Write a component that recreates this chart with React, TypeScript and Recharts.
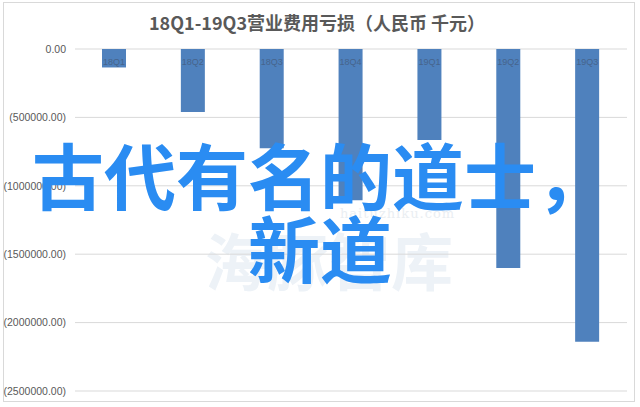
import { BarChart, Bar, XAxis, YAxis, CartesianGrid, LabelList } from 'recharts'

// 营业费用亏损, 人民币千元
const quarters = ['18Q1', '18Q2', '18Q3', '18Q4', '19Q1', '19Q2', '19Q3']
const losses = [-135000, -460000, -725000, -1105000, -665000, -1600000, -2140000]
const yTicks = [0, -500000, -1000000, -1500000, -2000000, -2500000]

const title = '18Q1-19Q3营业费用亏损（人民币 千元）'
const overlayText = '古代有名的道士，新道'

const fmt = (v: number) => (v === 0 ? '0.00' : `(${Math.abs(v).toFixed(2)})`)

// category name drawn just under the zero line, inside the bar
const QuarterLabel = (props: any) => {
  const { x, y, width, height, value } = props
  const top = Math.min(y, y + height)
  return (
    <text
      x={x + width / 2}
      y={top + 16}
      textAnchor="middle"
      fill="#46648c"
      fontSize={9}
      fontFamily="Liberation Sans, sans-serif"
    >
      {value}
    </text>
  )
}

export default function App() {
  const data = quarters.map((q, i) => ({ q, loss: losses[i] }))

  return (
    <div style={{ position: 'relative', width: 640, height: 407, background: '#fff', overflow: 'hidden' }}>
      <style>{`body{margin:0}`}</style>
      {/* chart frame */}
      <div
        style={{
          position: 'absolute',
          left: 3,
          top: 2,
          width: 632,
          height: 400,
          border: '1px solid #d9d9d9',
          boxSizing: 'border-box',
        }}
      />
      {/* faint watermark behind the bars */}
      <div
        style={{
          position: 'absolute',
          left: 340,
          top: 206,
          fontFamily: 'DejaVu Serif, serif',
          fontSize: 13,
          color: '#eaeef2',
          letterSpacing: 1,
        }}
      >
        haituzhiku.com
      </div>
      <div
        style={{
          position: 'absolute',
          left: 205,
          top: 228,
          fontFamily: '"Noto Sans CJK SC", sans-serif',
          fontWeight: 700,
          fontSize: 62,
          lineHeight: '62px',
          color: '#edf2f7',
          whiteSpace: 'nowrap',
        }}
      >
        海豚智库
      </div>
      <div
        style={{
          position: 'absolute',
          left: 0,
          top: 9,
          width: 634,
          textAlign: 'center',
          fontFamily: '"Noto Sans CJK SC", sans-serif',
          fontWeight: 700,
          fontSize: 18,
          color: '#595959',
        }}
      >
        {title}
      </div>
      <div style={{ position: 'absolute', left: 0, top: 0 }}>
        <BarChart width={640} height={407} data={data} margin={{ top: 49, right: 13, bottom: 16, left: 0 }}>
          <CartesianGrid vertical={false} stroke="#d9d9d9" />
          <XAxis dataKey="q" hide height={0} />
          <YAxis
            width={75}
            domain={[-2500000, 0]}
            ticks={yTicks}
            tickFormatter={fmt}
            axisLine={false}
            tickLine={false}
            tickSize={0}
            tickMargin={9}
            tick={{ fill: '#595959', fontSize: 10.5, fontFamily: 'Liberation Sans, sans-serif' }}
          />
          <Bar dataKey="loss" fill="#4f81bd" barSize={24} isAnimationActive={false}>
            <LabelList dataKey="q" content={QuarterLabel} />
          </Bar>
        </BarChart>
      </div>
      {/* overlay caption */}
      <div
        style={{
          position: 'absolute',
          left: 0,
          top: 136,
          width: 640,
          textAlign: 'center',
          fontFamily: '"Noto Sans CJK SC", sans-serif',
          fontWeight: 700,
          fontSize: 72,
          lineHeight: '73px',
          color: '#2a8cf2',
        }}
      >
        {overlayText}
      </div>
    </div>
  )
}
